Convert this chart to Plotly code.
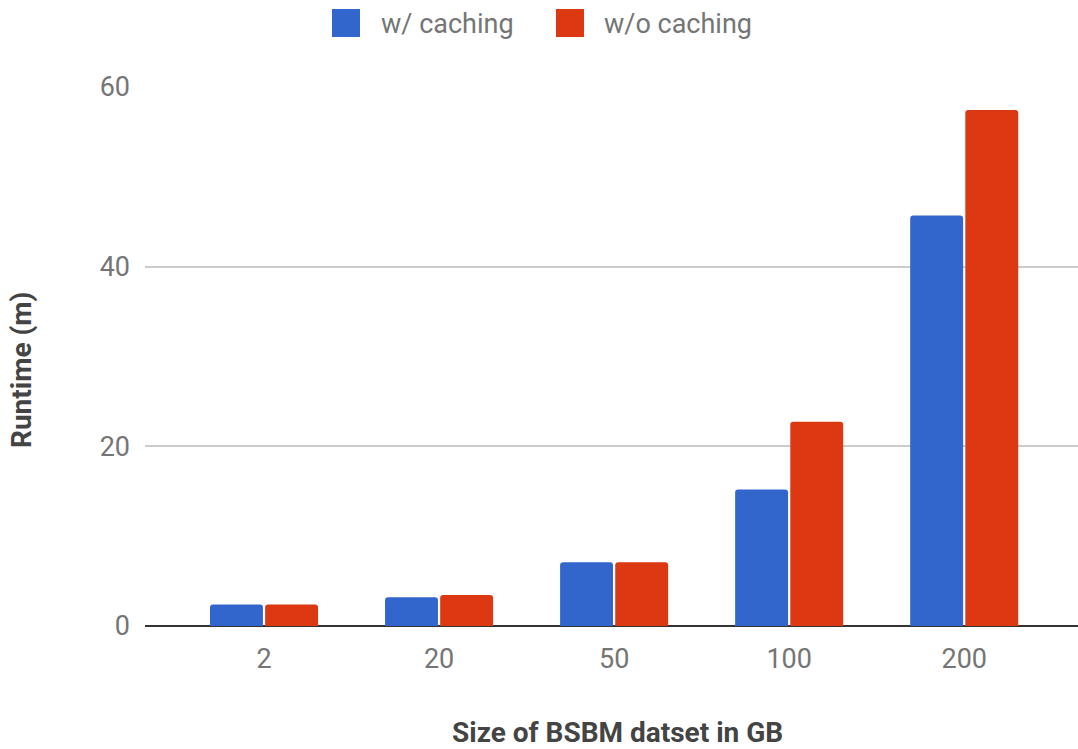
import plotly.graph_objects as go

# Dataset sizes (GB) and runtimes (minutes)
sizes = ["2", "20", "50", "100", "200"]
with_caching = [2.4, 3.2, 7.1, 15.2, 45.7]
without_caching = [2.4, 3.45, 7.1, 22.75, 57.45]
series_names = ["w/ caching", "w/o caching"]
y_ticks = [0, 20, 40, 60]

BLUE = "#3366CC"
RED = "#DC3912"
W, H = 1078, 749
L, R, T, B = 145, 0, 87, 123


def px_x(x):
    return (x - L) / (W - L - R)


def px_y(y):
    return (H - B - y) / (H - T - B)


fig = go.Figure()
fig.add_trace(go.Bar(x=sizes, y=with_caching, name=series_names[0],
                     marker=dict(color=BLUE, cornerradius=3, line=dict(width=0))))
fig.add_trace(go.Bar(x=sizes, y=without_caching, name=series_names[1],
                     marker=dict(color=RED, cornerradius=3, line=dict(width=0))))

font = "Roboto, Arial, sans-serif"
fig.update_layout(
    width=W, height=H,
    margin=dict(l=L, r=R, t=T, b=B),
    paper_bgcolor="white", plot_bgcolor="white",
    barmode="group", bargap=0.37, bargroupgap=0.04,
    showlegend=False,
    font=dict(family=font, size=27, color="#757575"),
    xaxis=dict(range=[-0.68, 4.65], showgrid=False, zeroline=False,
               showline=False, ticks="", ticklabelstandoff=14,
               tickfont=dict(size=27, color="#757575")),
    yaxis=dict(range=[0, 60], tickvals=y_ticks, showgrid=True,
               gridcolor="#CCCCCC", gridwidth=2, zeroline=True,
               zerolinecolor="#333333", zerolinewidth=2, showline=False,
               ticks="", ticklabelstandoff=14,
               tickfont=dict(size=27, color="#757575")),
)

# Axis titles
fig.add_annotation(text="<b>Size of BSBM datset in GB</b>", xref="paper", yref="paper",
                   x=px_x(617), y=px_y(732), xanchor="center", yanchor="middle",
                   showarrow=False, font=dict(size=28, color="#444444", family=font))
fig.add_annotation(text="<b>Runtime (m)</b>", xref="paper", yref="paper",
                   x=px_x(22), y=px_y(370), xanchor="center", yanchor="middle",
                   showarrow=False, textangle=-90,
                   font=dict(size=28, color="#444444", family=font))

# Legend drawn at the top
legend_items = [(332, 379, BLUE, series_names[0]), (556, 602, RED, series_names[1])]
for sx, tx, col, name in legend_items:
    fig.add_shape(type="rect", xref="paper", yref="paper",
                  x0=px_x(sx), x1=px_x(sx + 28), y0=px_y(37), y1=px_y(9),
                  fillcolor=col, line=dict(width=0), layer="above")
    fig.add_annotation(text=name, xref="paper", yref="paper", x=px_x(tx), y=px_y(24),
                       xanchor="left", yanchor="middle", showarrow=False,
                       font=dict(size=27, color="#757575", family=font))

fig.write_html("out.html")
